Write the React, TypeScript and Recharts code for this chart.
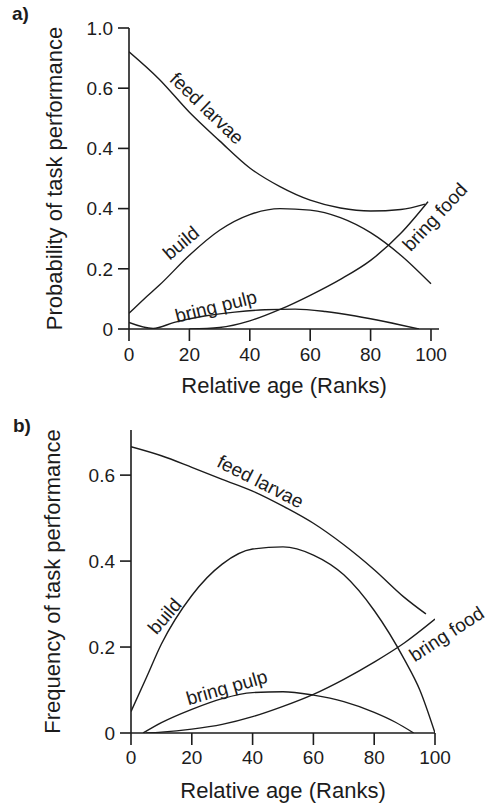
import React from 'react';
import { LineChart, Line, XAxis, YAxis, ReferenceDot, Label } from 'recharts';

// panel a) probability of task performance
const ageFeedA = [0, 10, 20, 30, 40, 50, 60, 70, 80, 90, 98];
const feedLarvaeA = [0.921, 0.83, 0.72, 0.625, 0.535, 0.473, 0.428, 0.402, 0.392, 0.397, 0.415];
const ageBuildA = [0, 5, 10, 20, 30, 40, 50, 60, 70, 80, 90, 100];
const buildA = [0.052, 0.1, 0.145, 0.245, 0.328, 0.38, 0.4, 0.395, 0.37, 0.32, 0.245, 0.15];
const ageFoodA = [20, 30, 40, 50, 60, 70, 80, 90, 99];
const bringFoodA = [0, 0.005, 0.027, 0.065, 0.112, 0.165, 0.228, 0.318, 0.423];
const agePulpA = [0, 8, 15, 25, 35, 45, 55, 65, 75, 85, 96];
const bringPulpA = [0.022, 0.002, 0.022, 0.043, 0.056, 0.064, 0.066, 0.058, 0.043, 0.024, 0];

// panel b) frequency of task performance
const ageFeedB = [0, 10, 20, 30, 40, 50, 60, 70, 80, 90, 97];
const feedLarvaeB = [0.666, 0.645, 0.618, 0.59, 0.563, 0.528, 0.488, 0.438, 0.38, 0.315, 0.277];
const ageBuildB = [0, 5, 10, 20, 30, 40, 50, 60, 70, 80, 90, 95, 100];
const buildB = [0.05, 0.128, 0.207, 0.32, 0.393, 0.428, 0.433, 0.414, 0.368, 0.285, 0.17, 0.1, 0];
const ageFoodB = [5, 10, 20, 30, 40, 50, 60, 70, 80, 90, 100];
const bringFoodB = [0, 0.002, 0.009, 0.02, 0.038, 0.062, 0.09, 0.125, 0.165, 0.21, 0.265];
const agePulpB = [4, 10, 20, 30, 40, 50, 60, 70, 80, 87, 93];
const bringPulpB = [0, 0.024, 0.055, 0.08, 0.094, 0.096, 0.088, 0.073, 0.048, 0.025, 0];

const xTicks = [0, 20, 40, 60, 80, 100];
const yTicksA = [0, 0.2, 0.4, 0.6, 0.8, 1.0];
const yTickLabelsA = ['0', '0.2', '0.4', '0.4', '0.6', '1.0'];
const yTicksB = [0, 0.2, 0.4, 0.6];
const yTickLabelsB = ['0', '0.2', '0.4', '0.6'];

const zip = (xs: number[], ys: number[]) => xs.map((x, i) => ({ x, y: ys[i] }));

const INK = '#1c1c1c';
const FONT = '"Liberation Sans", Arial, Helvetica, sans-serif';

// curve annotations: text, anchor (in data units), rotation
const labelsA = [
  { text: 'feed larvae', x: 25.8, y: 0.733, angle: 44 },
  { text: 'build', x: 17.2, y: 0.286, angle: -40 },
  { text: 'bring pulp', x: 28.8, y: 0.075, angle: -14 },
  { text: 'bring food', x: 101.3, y: 0.372, angle: -47 },
];
const labelsB = [
  { text: 'feed larvae', x: 42.6, y: 0.585, angle: 27 },
  { text: 'build', x: 11.1, y: 0.272, angle: -49 },
  { text: 'bring pulp', x: 31.5, y: 0.106, angle: -16 },
  { text: 'bring food', x: 103.8, y: 0.23, angle: -33 },
];

function curveLabel(text: string, angle: number) {
  return (p: any) => (
    <text
      x={p.cx}
      y={p.cy}
      textAnchor="middle"
      dominantBaseline="central"
      transform={`rotate(${angle}, ${p.cx}, ${p.cy})`}
      fontSize={19}
      fill={INK}
      fontFamily={FONT}
    >
      {text}
    </text>
  );
}

interface PanelProps {
  series: { x: number; y: number }[][];
  labels: { text: string; x: number; y: number; angle: number }[];
  yTicks: number[];
  yTickLabels: string[];
  yDomain: [number, number];
  xDomain: [number, number];
  yTitle: string;
  height: number;
  top: number;
  right: number;
  axisWidth: number;
  xAxisHeight: number;
  yTitleOffset: number;
  yTitleShift: number;
  xTitleOffset: number;
  xTickMargin: number;
}

function Panel(props: PanelProps) {
  const axisStyle = { stroke: INK, strokeWidth: 1.6 };
  const tickStyle = { fontSize: 19, fill: INK, fontFamily: FONT };
  return (
    <LineChart
      width={489}
      height={props.height}
      margin={{ top: props.top, right: props.right, bottom: 0, left: 0 }}
    >
      <XAxis
        type="number"
        dataKey="x"
        domain={props.xDomain}
        ticks={xTicks}
        allowDataOverflow
        axisLine={axisStyle}
        tickLine={axisStyle}
        tickSize={12}
        tickMargin={props.xTickMargin}
        tick={tickStyle}
        height={props.xAxisHeight}
        interval={0}
      >
        <Label
          value="Relative age (Ranks)"
          position="insideBottom"
          offset={props.xTitleOffset}
          fontSize={22}
          fill={INK}
          fontFamily={FONT}
        />
      </XAxis>
      <YAxis
        type="number"
        dataKey="y"
        domain={props.yDomain}
        ticks={props.yTicks}
        allowDataOverflow
        axisLine={axisStyle}
        tickLine={axisStyle}
        tickSize={11}
        tickMargin={5}
        tick={tickStyle}
        width={props.axisWidth}
        interval={0}
        tickFormatter={(v: number) => props.yTickLabels[props.yTicks.indexOf(v)] ?? String(v)}
      >
        <Label
          value={props.yTitle}
          angle={-90}
          position="insideLeft"
          offset={props.yTitleOffset}
          dx={props.yTitleShift}
          fontSize={22}
          fill={INK}
          fontFamily={FONT}
          style={{ textAnchor: 'middle' }}
        />
      </YAxis>
      {props.series.map((d, i) => (
        <Line
          key={i}
          data={d}
          dataKey="y"
          type="monotone"
          stroke={INK}
          strokeWidth={1.4}
          dot={false}
          isAnimationActive={false}
        />
      ))}
      {props.labels.map((l) => (
        <ReferenceDot
          key={l.text}
          x={l.x}
          y={l.y}
          r={0}
          ifOverflow="visible"
          shape={curveLabel(l.text, l.angle)}
        />
      ))}
    </LineChart>
  );
}

export default function App() {
  return (
    <div
      style={{
        position: 'absolute',
        left: 0,
        top: 0,
        width: 489,
        height: 808,
        background: '#fff',
        fontFamily: FONT,
      }}
    >
      <div style={{ position: 'absolute', left: 0, top: 0 }}>
        <Panel
          series={[
            zip(ageFeedA, feedLarvaeA),
            zip(ageBuildA, buildA),
            zip(ageFoodA, bringFoodA),
            zip(agePulpA, bringPulpA),
          ]}
          labels={labelsA}
          yTicks={yTicksA}
          yTickLabels={yTickLabelsA}
          yDomain={[0, 1]}
          xDomain={[0, 102.65]}
          yTitle="Probability of task performance"
          height={400}
          top={28}
          right={50}
          axisWidth={129}
          xAxisHeight={71}
          yTitleOffset={55}
          yTitleShift={-1}
          xTitleOffset={7}
          xTickMargin={7}
        />
      </div>
      <div style={{ position: 'absolute', left: 0, top: 400 }}>
        <Panel
          series={[
            zip(ageFeedB, feedLarvaeB),
            zip(ageBuildB, buildB),
            zip(ageFoodB, bringFoodB),
            zip(agePulpB, bringPulpB),
          ]}
          labels={labelsB}
          yTicks={yTicksB}
          yTickLabels={yTickLabelsB}
          yDomain={[0, 0.705]}
          xDomain={[0, 100]}
          yTitle="Frequency of task performance"
          height={408}
          top={30}
          right={54}
          axisWidth={131}
          xAxisHeight={75}
          yTitleOffset={58}
          yTitleShift={-6}
          xTitleOffset={10}
          xTickMargin={6}
        />
      </div>
      <div style={{ position: 'absolute', left: 12, top: 3, fontSize: 19, fontWeight: 'bold', color: INK }}>
        a)
      </div>
      <div style={{ position: 'absolute', left: 13, top: 415, fontSize: 19, fontWeight: 'bold', color: INK }}>
        b)
      </div>
    </div>
  );
}
